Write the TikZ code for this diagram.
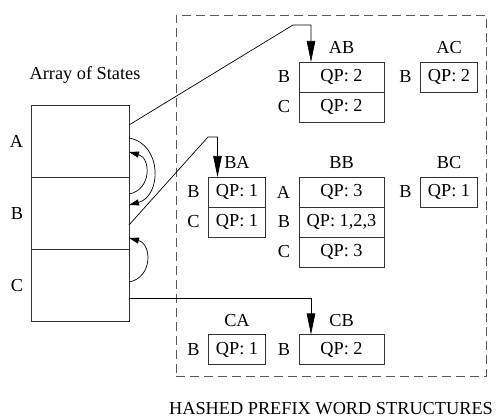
\documentclass[tikz,border=0pt]{standalone}
\usepackage{fontspec}
\setmainfont{Liberation Serif}
\usetikzlibrary{positioning,arrows.meta}

\begin{document}
\begin{tikzpicture}[x=1pt, y=1pt, node distance=0cm, outer sep=0pt,
    every node/.style={font=\fontsize{18.3}{20}\selectfont},
    cell/.style={draw=black!80, line width=0.8pt, minimum width=98pt, minimum height=72pt},
    qpwide/.style={draw=black!80, line width=0.8pt, minimum width=85pt, minimum height=30pt, inner sep=0pt},
    qpnarrow/.style={qpwide, minimum width=57pt},
    lbl/.style={inner sep=0pt},
    pointer/.style={line width=0.7pt, -{Triangle[length=21pt,width=8.5pt]}},
    hop/.style={line width=0.7pt, -{Triangle[length=10pt,width=6pt]}}]
    \useasboundingbox (0,0) rectangle (498,419);

    % array of states
    \node [cell] (sA) at (80,277.5) {};
    \node [cell, below=of sA] (sB) {};
    \node [cell, below=of sB] (sC) {};
    \node [lbl, left=8pt of sA] (sAl) {A};
    \node [lbl, left=8pt of sB] (sBl) {B};
    \node [lbl, left=8pt of sC] (sCl) {C};
    \node [lbl, above=22pt of sA, xshift=5pt] (states) {Array of States};

    % hashed prefix words
    \node [draw=black!65, line width=0.8pt, dash pattern=on 9pt off 5pt,
           minimum width=310pt, minimum height=361pt] (hash) at (331,223.5) {};
    \node [lbl, below=26pt of hash] (hashtitle) {HASHED PREFIX WORD STRUCTURES};

    % AB
    \node [qpwide] (abB) at (341.5,342) {QP: 2};
    \node [qpwide, below=of abB] (abC) {QP: 2};
    \node [lbl, above=8pt of abB] (ab) {AB};
    \node [lbl, left=9pt of abB] (abBl) {B};
    \node [lbl, left=9pt of abC] (abCl) {C};

    % AC
    \node [qpnarrow] (acB) at (449,342) {QP: 2};
    \node [lbl, above=8pt of acB] (ac) {AC};
    \node [lbl, left=9pt of acB] (acBl) {B};

    % BA
    \node [qpnarrow] (baB) at (237,227) {QP: 1};
    \node [qpnarrow, below=of baB] (baC) {QP: 1};
    \node [lbl, above=8pt of baB] (ba) {BA};
    \node [lbl, left=9pt of baB] (baBl) {B};
    \node [lbl, left=9pt of baC] (baCl) {C};

    % BB
    \node [qpwide] (bbA) at (341.5,227) {QP: 3};
    \node [qpwide, below=of bbA] (bbB) {QP: 1,2,3};
    \node [qpwide, below=of bbB] (bbC) {QP: 3};
    \node [lbl, above=8pt of bbA] (bb) {BB};
    \node [lbl, left=9pt of bbA] (bbAl) {A};
    \node [lbl, left=9pt of bbB] (bbBl) {B};
    \node [lbl, left=9pt of bbC] (bbCl) {C};

    % BC
    \node [qpnarrow] (bcB) at (449,227) {QP: 1};
    \node [lbl, above=8pt of bcB] (bc) {BC};
    \node [lbl, left=9pt of bcB] (bcBl) {B};

    % CA
    \node [qpnarrow] (caB) at (237,69.5) {QP: 1};
    \node [lbl, above=8pt of caB] (ca) {CA};
    \node [lbl, left=9pt of caB] (caBl) {B};

    % CB
    \node [qpwide] (cbB) at (341.5,69.5) {QP: 2};
    \node [lbl, above=8pt of cbB] (cb) {CB};
    \node [lbl, left=9pt of cbB] (cbBl) {B};

    % pointers from the states into the hash
    \coordinate (bendA) at (293,394);
    \coordinate (bendB) at (208,282);
    \draw [pointer] ([yshift=16.5pt]sA.east) -- (bendA) -| ([xshift=12pt]abB.north west);
    \draw [pointer] ([yshift=-11.5pt]sB.east) -- (bendB) -| ([xshift=9pt]baB.north west);
    \draw [pointer] ([yshift=-12.5pt]sC.east) -| ([xshift=12pt]cbB.north west);

    % transitions between states
    \draw [hop] ([yshift=3.5pt]sA.east) to[out=-10, in=15, looseness=1.3] ([yshift=8.5pt]sB.east);
    \draw [hop] ([yshift=19.5pt]sB.east) to[out=10, in=-15, looseness=1.4] ([yshift=-10.5pt]sA.east);
    \draw [hop] ([yshift=3.5pt]sC.east) to[out=10, in=-15, looseness=1.4] ([yshift=-24.5pt]sB.east);
\end{tikzpicture}
\end{document}
